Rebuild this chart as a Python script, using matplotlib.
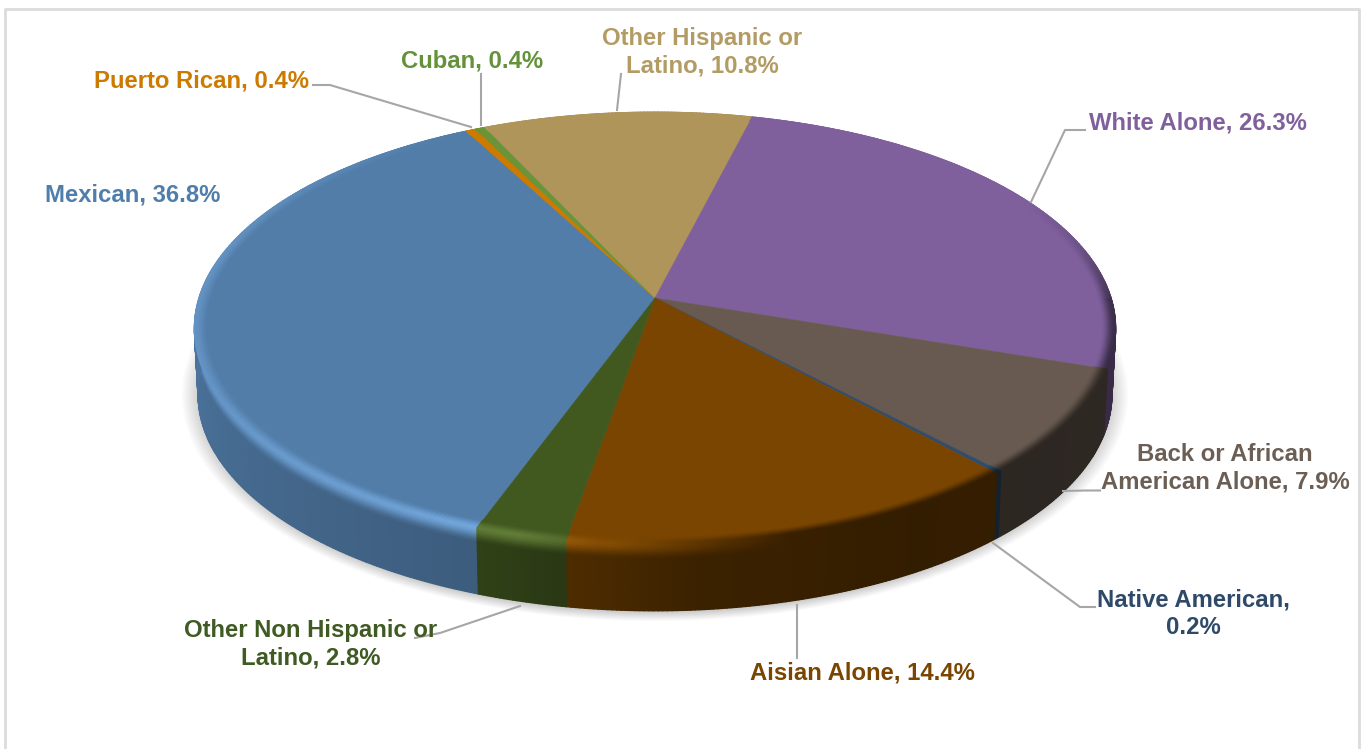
import numpy as np
import matplotlib
matplotlib.use('Agg')
import matplotlib.pyplot as plt
from matplotlib.collections import PolyCollection
from matplotlib.colors import to_rgb

# data, clockwise starting with Mexican
names = ['Mexican', 'Puerto Rican', 'Cuban', 'Other Hispanic or\nLatino', 'White Alone',
         'Back or African\nAmerican Alone', 'Native American,\n', 'Aisian Alone',
         'Other Non Hispanic or\nLatino']
values = [36.8, 0.4, 0.4, 10.8, 26.3, 7.9, 0.2, 14.4, 2.8]

colors = ['#527DA9', '#CC7A00', '#6A9439', '#AF955A', '#7F609D', '#685A50', '#2F4D6C', '#7A4500', '#41581F']
label_colors = ['#4F7EAB', '#CC7A00', '#63923A', '#B39B64', '#7F609D', '#6B5E55', '#2E4A68', '#7A4500', '#3F5A22']

# label centre, then the leader line
label_pos = [(133, 195), (201.5, 81), (472, 61), (702, 52), (1198, 123), (1225, 468), (1193, 614), (862.5, 673), (311, 644)]
leaders = [None,
           [(313, 85), (330, 85), (471, 127)],
           [(481, 74), (481, 125)],
           [(621, 74), (617, 110)],
           [(1085, 130), (1065, 130), (1031, 202)],
           [(1100, 490.5), (1085, 490.5), (1063, 491)],
           [(1095, 607), (1080, 607), (993, 543)],
           [(797, 605), (797, 658)],
           [(520, 606), (440, 633), (415, 638)]]

start_deg = 250.2
cx, cy = 655, 298
a, b, k = 456, 212, 0.141
depth = 66


def project(r, th):
    # tilted disc seen in perspective, apex is not the ellipse centre
    x = r * np.cos(th)
    y = r * np.sin(th)
    w = 1 + k * y
    return cx + a * x / w, cy - b * y / w


def side_factor(d):
    return np.interp(d, [0, 20, 60, 120, 180, 220, 250, 262, 275, 300, 345, 360],
                     [.5, .55, .7, .9, .93, .83, .74, .62, .48, .42, .45, .5])


def whiten(d):
    return np.interp(d, [0, 120, 165, 200, 240, 255, 264, 280, 360],
                     [0, 0, .1, .11, .17, .22, .05, 0, 0])


def dark_mix(d):
    return np.interp(d, [0, 15, 30, 265, 285, 360], [.9, .3, 0, 0, 1, 1])


def lerp(c1, c2, t):
    return tuple(np.array(c1) * (1 - t) + np.array(c2) * t)


fig = plt.figure(figsize=(13.61, 7.49), dpi=100)
ax = fig.add_axes([0, 0, 1, 1])
ax.set_xlim(0, 1361)
ax.set_ylim(749, 0)
ax.axis('off')

# frame
ax.plot([5.5, 5.5, 1359, 1359], [749, 8.5, 8.5, 749], color='#DCDCDC', lw=2, zorder=1)

# soft shadow under the disc
tt = np.linspace(0, 2 * np.pi, 400)
px, py = project(1, tt)
mx, my = cx, cy + 30 + depth
for i in range(20):
    s = 1.028 - i * 0.0025
    ax.fill(mx + (px - cx) * s, my + (py - cy - 30) * (s + 0.02), color='black', alpha=0.012, lw=0, zorder=2)

fracs = np.cumsum([0] + values) / sum(values)
edges = np.radians(start_deg - 360 * fracs)

side_polys, side_cols, rim_polys, rim_cols = [], [], [], []
rings = np.linspace(0.97, 1.0, 11)
drops = np.r_[np.linspace(0, 0.24, 9), np.linspace(0.3, 1, 5)]
for i, col in enumerate(colors):
    top = to_rgb(col)
    n = max(2, int(np.degrees(edges[i] - edges[i + 1]) * 2))
    ths = np.linspace(edges[i], edges[i + 1], n + 1)

    for t0, t1 in zip(ths[:-1], ths[1:]):
        d = np.degrees((t0 + t1) / 2) % 360
        side = tuple(np.array(top) * side_factor(d))
        w = whiten(d)
        lit = np.clip(np.array(top) * (1 + 1.4 * w), 0, 1)
        peak = lerp(lerp(lit, (1, 1, 1), w * 0.3), side, dark_mix(d))

        x0, y0 = project(1, t0)
        x1, y1 = project(1, t1)
        for d0, d1 in zip(drops[:-1], drops[1:]):
            # bottom rim is a touch narrower
            s0, s1 = 1 - 0.008 * d0, 1 - 0.008 * d1
            side_polys.append([(cx + (x0 - cx) * s0, y0 + depth * d0), (cx + (x1 - cx) * s0, y1 + depth * d0),
                               (cx + (x1 - cx) * s1, y1 + depth * d1), (cx + (x0 - cx) * s1, y0 + depth * d1)])
            u = min(1, (d0 + d1) / 2 / 0.24)
            side_cols.append(lerp(peak, side, u * u * (3 - 2 * u)))

        for j, (r0, r1) in enumerate(zip(rings[:-1], rings[1:])):
            xa, ya = project(r0, t0)
            xb, yb = project(r0, t1)
            xc, yc = project(r1, t1)
            xd, yd = project(r1, t0)
            rim_polys.append([(xa, ya), (xb, yb), (xc, yc), (xd, yd)])
            u = (j + 0.5) / (len(rings) - 1)
            rim_cols.append(lerp(top, peak, u * u * (3 - 2 * u)))

ax.add_collection(PolyCollection(side_polys, facecolors=side_cols, edgecolors=side_cols, linewidths=0.9, zorder=3))

# top face
for i, col in enumerate(colors):
    ths = np.linspace(edges[i], edges[i + 1], max(3, int(values[i] * 8)))
    x, y = project(rings[0] + 0.001, ths)
    ax.fill(np.r_[cx, x], np.r_[cy, y], color=col, lw=0.4, zorder=4)

ax.add_collection(PolyCollection(rim_polys, facecolors=rim_cols, edgecolors=rim_cols, linewidths=0.9, zorder=5))

# leader lines
for line in leaders:
    if line is not None:
        ax.plot([p[0] for p in line], [p[1] for p in line], color='#A6A6A6', lw=1.5, zorder=6)

# labels
for name, val, col, pos in zip(names, values, label_colors, label_pos):
    if name.endswith('\n'):
        txt = f'{name}{val}%'
    else:
        txt = f'{name}, {val}%'
    ax.text(pos[0], pos[1], txt, color=col, ha='center', va='center', fontsize=17.2,
            fontweight='bold', family='Liberation Sans', linespacing=1.26, zorder=7)

fig.savefig('out.png', dpi=100)
